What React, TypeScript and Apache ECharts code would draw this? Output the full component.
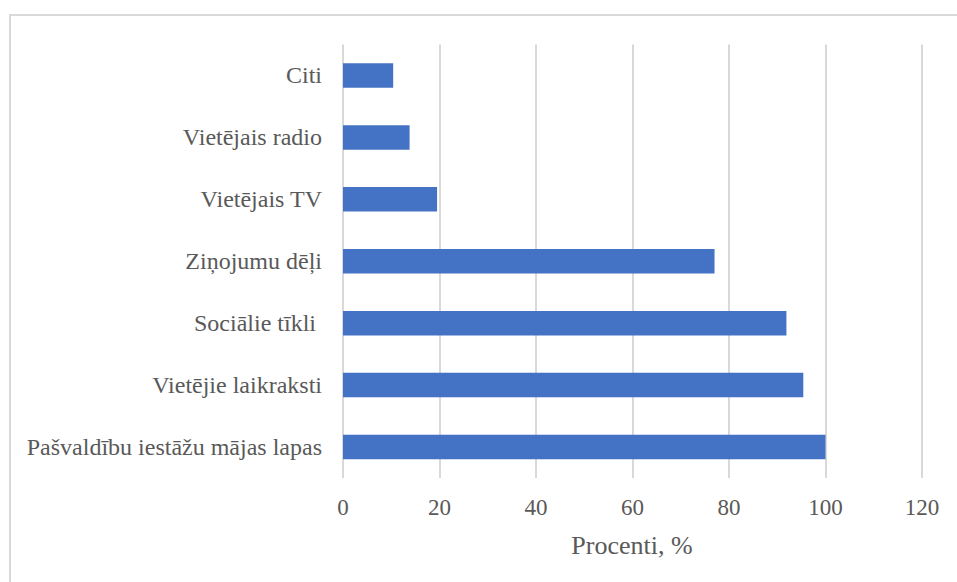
import React, { useEffect, useRef } from "react";
import * as echarts from "echarts";

const categories = [
  "Citi",
  "Vietējais radio",
  "Vietējais TV",
  "Ziņojumu dēļi",
  "Sociālie tīkli ",
  "Vietējie laikraksti",
  "Pašvaldību iestāžu mājas lapas",
];
const values = [10.4, 13.8, 19.5, 77.0, 91.9, 95.4, 100];
const axisTitle = "Procenti, %";

const FONT = "Times New Roman, Liberation Serif, serif";
const TEXT = "#595959";

export default function App() {
  const ref = useRef<HTMLDivElement>(null);
  useEffect(() => {
    document.body.style.margin = "0";
    const chart = echarts.init(ref.current!, null, { renderer: "svg" });
    chart.setOption({
      animation: false,
      backgroundColor: "#ffffff",
      grid: { left: 343, right: 35, top: 44.5, bottom: 104, containLabel: false },
      xAxis: {
        type: "value",
        min: 0,
        max: 120,
        interval: 20,
        axisLine: { show: false },
        axisTick: { show: false },
        splitLine: { show: true, lineStyle: { color: "#D9D9D9", width: 2 } },
        axisLabel: { color: TEXT, fontFamily: FONT, fontSize: 23, margin: 18 },
      },
      yAxis: {
        type: "category",
        data: categories,
        inverse: true,
        axisLine: { show: false },
        axisTick: { show: false },
        axisLabel: { color: TEXT, fontFamily: FONT, fontSize: 24, margin: 21 },
      },
      series: [
        {
          type: "bar",
          data: values,
          barWidth: 24.5,
          itemStyle: { color: "#4472C4" },
        },
      ],
      graphic: [
        {
          type: "rect",
          shape: { x: 10, y: 15, width: 1200, height: 800 },
          style: { fill: "none", stroke: "#D9D9D9", lineWidth: 2 },
          silent: true,
        },
        {
          type: "text",
          x: 632,
          y: 545,
          style: {
            text: axisTitle,
            fill: TEXT,
            fontFamily: FONT,
            fontSize: 26,
            align: "center",
            verticalAlign: "middle",
          },
        },
      ],
    });
    return () => chart.dispose();
  }, []);
  return (
    <div
      ref={ref}
      style={{ position: "fixed", left: 0, top: 0, width: 957, height: 582 }}
    />
  );
}
